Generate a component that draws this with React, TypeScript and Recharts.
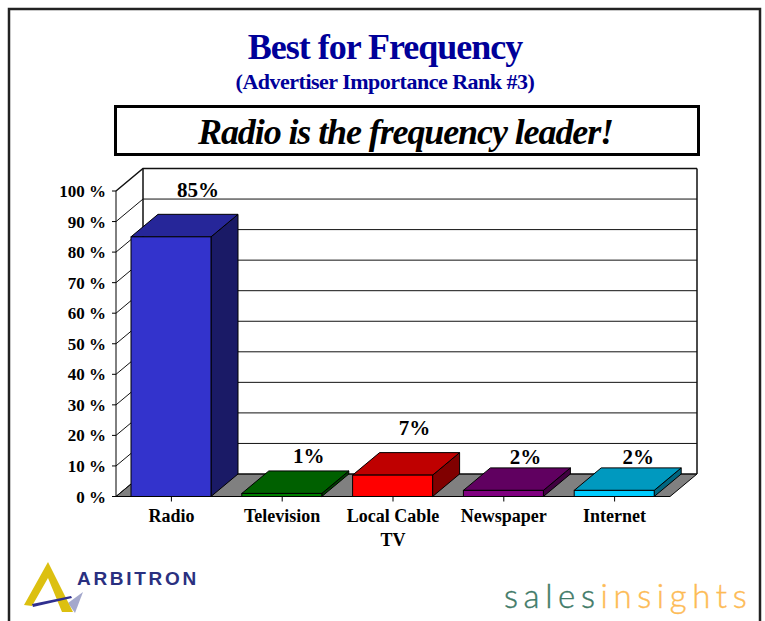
import { BarChart, Bar, XAxis, YAxis, CartesianGrid, LabelList } from 'recharts'

const categories = ['Radio', 'Television', 'Local Cable TV', 'Newspaper', 'Internet']
const shares = [85, 1, 7, 2, 2]
const valueTicks = [0, 10, 20, 30, 40, 50, 60, 70, 80, 90, 100]

const frontColors = ['#3333cc', '#008000', '#ff0000', '#800080', '#00ccff']
const topColors = ['#262699', '#006000', '#bf0000', '#600060', '#0099bf']
const sideColors = ['#1a1a66', '#004000', '#800000', '#400040', '#006680']
const labelLift = [24, 15, 25, 11, 11]
const labelShift = [0, 0, -5, -5, -3]

const tableData = categories.map((name, i) => ({ name, share: shares[i] }))

const DX = 27
const DY = -22.5
const MARGIN_TOP = 191
const AXIS_H = 124.5
const PLOT_H = 621 - MARGIN_TOP - AXIS_H
const SERIF = '"Liberation Serif", "Times New Roman", serif'

function Bar3D(props: any) {
  const { x, y, width, height, index } = props
  const right = x + width
  const bottom = y + height
  const top = `${x},${y} ${x + DX},${y + DY} ${right + DX},${y + DY} ${right},${y}`
  const side = `${right},${y} ${right + DX},${y + DY} ${right + DX},${bottom + DY} ${right},${bottom}`
  return (
    <g stroke="#000" strokeWidth={1}>
      <polygon points={side} fill={sideColors[index]} />
      <polygon points={top} fill={topColors[index]} />
      <rect x={x} y={y} width={width} height={height} fill={frontColors[index]} />
    </g>
  )
}

// back wall, floor and left wall all hang off the horizontal grid lines
function WallLine(props: any) {
  const { x1, x2, y1, index } = props
  const bx1 = x1 + DX
  const bx2 = x2 + DX
  const by = y1 + DY
  const isTop = index === valueTicks.length - 1
  return (
    <g>
      {index === 0 && (
        <polygon points={`${x1},${y1} ${bx1},${by} ${bx2},${by} ${x2},${y1}`} fill="#808080" stroke="#000" />
      )}
      {isTop && (
        <path d={`M${bx1} ${by} V${by + PLOT_H} M${bx2} ${by} V${by + PLOT_H}`} stroke="#111" strokeWidth={1.5} fill="none" />
      )}
      <path d={`M${x1} ${y1} L${bx1} ${by} L${bx2} ${by}`} stroke="#111" strokeWidth={isTop ? 1.5 : 1} fill="none" />
    </g>
  )
}

function CategoryTick(props: any) {
  const { x, y, payload } = props
  const lines = payload.value === 'Local Cable TV' ? ['Local Cable', 'TV'] : [payload.value]
  return (
    <text x={x} y={y} textAnchor="middle" fontFamily={SERIF} fontWeight="bold" fontSize={18} fill="#000">
      {lines.map((line: string, i: number) => (
        <tspan key={line} x={x} y={y + 18 + i * 24}>{line}</tspan>
      ))}
    </text>
  )
}

function ShareLabel(props: any) {
  const { x, y, width, index, value } = props
  return (
    <text
      x={x + width / 2 + DX + labelShift[index]}
      y={y + DY - labelLift[index] + 7}
      textAnchor="middle"
      fontFamily={SERIF}
      fontWeight="bold"
      fontSize={21}
      fill="#000"
    >
      {value}%
    </text>
  )
}

export default function App() {
  return (
    <div style={{ position: 'absolute', left: 0, top: 0, width: 765, height: 621, background: '#fff' }}>
      <BarChart
        width={765}
        height={621}
        data={tableData}
        barSize={80}
        margin={{ top: MARGIN_TOP, right: 95, bottom: 0, left: 0 }}
      >
        {/* page frame, open at the bottom */}
        <path d="M9 621 V9 H760 V621" fill="none" stroke="#222" strokeWidth={2.5} />

        <text x={385} y={59} textAnchor="middle" fontFamily={SERIF} fontWeight="bold" fontSize={36} letterSpacing={-1} fill="#000099">
          Best for Frequency
        </text>
        <text x={385} y={89} textAnchor="middle" fontFamily={SERIF} fontWeight="bold" fontSize={22} letterSpacing={-0.5} fill="#000099">
          (Advertiser Importance Rank #3)
        </text>
        <rect x={115.5} y={106.5} width={583} height={48} fill="#fff" stroke="#000" strokeWidth={3} />
        <text x={405.5} y={144} textAnchor="middle" fontFamily={SERIF} fontWeight="bold" fontStyle="italic" fontSize={36} letterSpacing={-1.1} fill="#000">
          Radio is the frequency leader!
        </text>

        <CartesianGrid vertical={false} horizontal={WallLine} />
        <XAxis
          dataKey="name"
          height={AXIS_H}
          interval={0}
          tick={CategoryTick}
          tickSize={5}
          stroke="#000"
        />
        <YAxis
          domain={[0, 100]}
          ticks={valueTicks}
          width={116}
          interval={0}
          tickSize={4}
          tickMargin={6}
          tickFormatter={(v: number) => `${v} %`}
          tick={{ fontFamily: SERIF, fontWeight: 'bold', fontSize: 17, fill: '#000' }}
          stroke="#000"
        />
        <Bar dataKey="share" isAnimationActive={false} shape={Bar3D}>
          <LabelList dataKey="share" content={ShareLabel} />
        </Bar>

        {/* Arbitron logo */}
        <polygon points="68,603 83,592 75,613" fill="#a4a8cc" />
        <polygon points="24,605 48,562 73,612 62,612 48,578 32,606" fill="#dcc010" />
        <polygon points="32,604 71,596 72,598 33,607" fill="#2f2f8f" />
        <text x={77} y={585} fontFamily='"Liberation Sans", sans-serif' fontWeight="bold" fontSize={19} letterSpacing={2.7} fill="#2a3080">
          ARBITRON
        </text>

        {/* sales insights logo */}
        <text x={504} y={608} fontFamily="Lato, sans-serif" fontWeight={300} fontSize={33} letterSpacing={5.6} strokeWidth={0.4}>
          <tspan fill="#3f7a68" stroke="#3f7a68">sales</tspan>
          <tspan fill="#fdbb55" stroke="#fdbb55">insights</tspan>
        </text>
      </BarChart>
    </div>
  )
}
